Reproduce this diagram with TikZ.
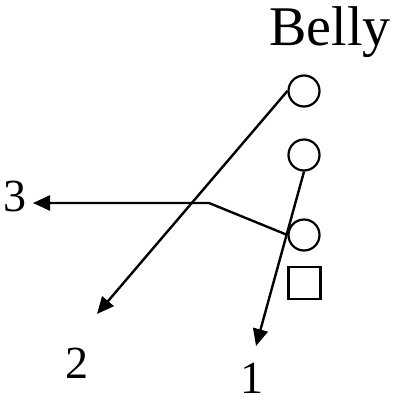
\documentclass[tikz,border=0pt]{standalone}
\usepackage{fontspec}
\setmainfont{Liberation Serif}
\usetikzlibrary{arrows.meta}

\begin{document}
\begin{tikzpicture}[x=1pt, y=-1pt, every node/.style={font=\fontsize{46}{46}\selectfont}]
\tikzstyle{cell} = [circle, draw=black, line width=2.2pt, minimum size=31pt, inner sep=0pt]
\tikzstyle{block} = [rectangle, draw=black, line width=2.2pt, minimum size=32pt, inner sep=0pt]
\tikzstyle{label} = [anchor=base, inner sep=0pt]
\tikzstyle{arrow} = [line width=2.4pt, -{Triangle[length=17pt, width=15pt]}]

\useasboundingbox (0,0) rectangle (399,397);

% Nodes
\node (belly) [label, font=\fontsize{56}{56}\selectfont] at (330,45) {Belly};
\node (top) [cell] at (304,91) {};
\node (mid) [cell] at (304,155) {};
\node (low) [cell] at (304,235) {};
\node (box) [block] at (304.5,283) {};
\node (lbl3) [label] at (15,211) {3};
\node (lbl2) [label] at (76.5,378) {2};
\node (lbl1) [label] at (251.5,393) {1};
\coordinate (bend) at (209,203);
\coordinate (tip3) at (33,203);
\coordinate (tip2) at (97,314);
\coordinate (tip1) at (256,346);

% Arrows
\draw [arrow] (top.west) -- (tip2);
\draw [arrow] (mid.south) -- (tip1);
\draw [arrow] (low.west) -- (bend) -- (tip3);
\end{tikzpicture}
\end{document}
